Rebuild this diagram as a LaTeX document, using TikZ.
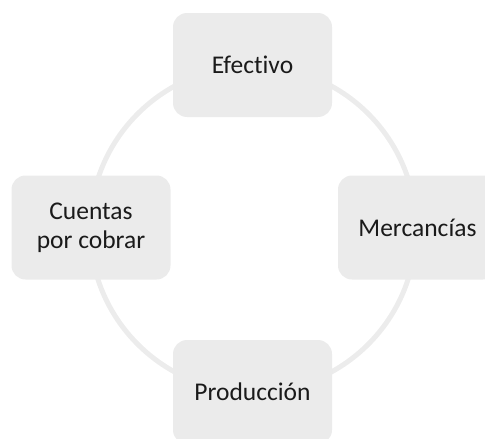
\documentclass[tikz,border=0pt]{standalone}
\usepackage{fontspec}
\setmainfont[RawFeature=-liga]{Carlito}
\definecolor{boxfill}{HTML}{EBEBEB}
\definecolor{ringcol}{HTML}{ECECEC}
\definecolor{txt}{HTML}{1A1A1A}
\begin{document}
\begin{tikzpicture}[x=1pt,y=-1pt,
  stagebox/.style={fill=boxfill, rounded corners=14pt, minimum width=159pt, minimum height=104pt,
    inner sep=0pt, align=center, text=txt, font=\fontsize{25.5}{29}\selectfont},
  ring/.style={draw=ringcol, line width=5pt}]
\useasboundingbox (0,0) rectangle (485,439);
\coordinate (c) at (253,229);
\draw[ring] (c) circle[radius=163];
\node[stagebox] (efectivo) at (252.5,65) {Efectivo};
\node[stagebox] (cuentas) at (91,227.5) {Cuentas\\por cobrar};
\node[stagebox] (mercancias) at (417.5,227.5) {Mercancías};
\node[stagebox] (produccion) at (252.5,392) {Producción};
\end{tikzpicture}
\end{document}
